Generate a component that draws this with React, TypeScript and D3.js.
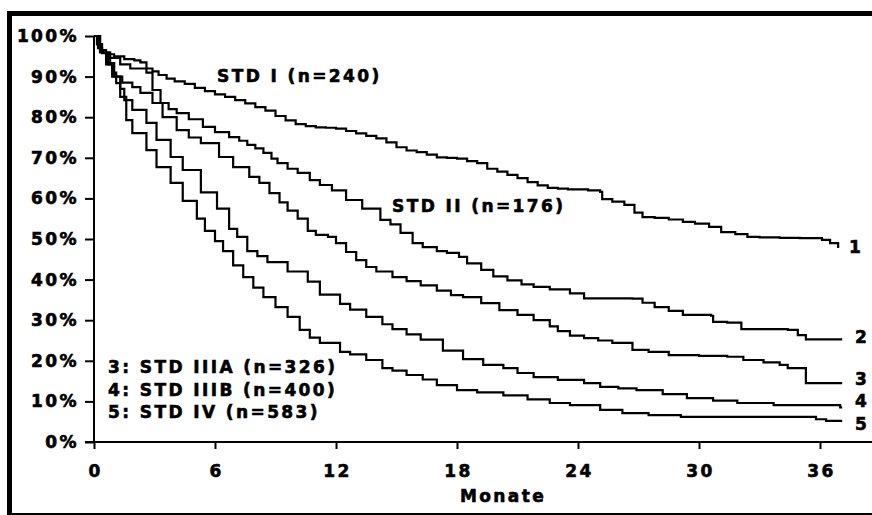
import React, { useEffect, useRef } from "react";
import * as d3 from "d3";

// Überlebenskurven nach Stadium (Kaplan-Meier)
const groupNames = ["STD I (n=240)", "STD II (n=176)", "3: STD IIIA (n=326)", "4: STD IIIB (n=400)", "5: STD IV (n=583)"];
const curveIds = ["1", "2", "3", "4", "5"];
const monthTicks = [0, 6, 12, 18, 24, 30, 36];
const pctTicks = [0, 10, 20, 30, 40, 50, 60, 70, 80, 90, 100];
const xTitle = "Monate";

const std1Months = [0, 0.15, 0.3, 0.6, 1.0, 1.5, 2.0, 2.3, 2.6, 2.9, 3.2, 3.6, 4.0, 4.5, 5.0, 5.5, 6.0, 6.5, 7.0, 7.5, 8.0, 8.5, 9.0, 9.5, 10.0, 10.5, 11.0, 11.5, 12.0, 12.5, 13.0, 13.5, 14.0, 14.5, 15.0, 15.5, 16.0, 16.5, 17.0, 17.5, 18.0, 18.5, 19.0, 19.5, 20.0, 20.5, 21.0, 21.5, 22.0, 22.5, 23.0, 23.5, 24.5, 25.1, 25.2, 25.7, 26.3, 26.8, 27.2, 27.8, 28.5, 29.2, 29.8, 30.5, 31.1, 31.8, 32.4, 33.0, 34.0, 35.0, 36.1, 36.5, 36.9];
const std1Surv = [100, 98, 96.5, 95.5, 95, 94.3, 94, 93.5, 92, 91.3, 90.4, 89.5, 88.8, 88.2, 87.2, 86.4, 85.6, 85, 84.2, 83.4, 82.5, 81.6, 80.3, 79.2, 78.3, 77.8, 77.5, 77.4, 77.2, 76.6, 76, 75.4, 74.8, 73.8, 72.6, 71.8, 71.4, 70.8, 70.1, 70, 69.8, 69.2, 68.7, 67.3, 66.6, 65.8, 65, 64, 63.2, 62.6, 62.4, 62.2, 62, 61.6, 59.8, 59.2, 58.4, 56.5, 55.4, 55.2, 54.8, 54.2, 53.8, 53, 51.7, 51.2, 50.5, 50.4, 50.3, 50.2, 49.8, 49, 47.8];

const std2Months = [0, 0.15, 0.4, 0.8, 1.3, 1.8, 2.6, 2.9, 3.3, 3.7, 4.1, 4.7, 5.4, 6.0, 6.7, 7.2, 7.6, 8.0, 8.4, 8.8, 9.1, 9.6, 10.1, 10.7, 11.2, 11.8, 12.5, 13.3, 14.2, 14.7, 15.2, 15.8, 16.3, 17.0, 17.5, 18.1, 18.5, 19.2, 19.8, 20.5, 21.2, 21.8, 22.6, 23.6, 24.3, 26.7, 27.2, 27.8, 28.5, 29.2, 30.6, 30.7, 31.4, 32.1, 34.4, 34.9, 35.3, 37.1];
const std2Surv = [100, 98, 96, 94.6, 93, 92, 91, 86.7, 83.5, 82, 81, 79.5, 77.6, 76.3, 75.1, 74.2, 73.2, 72.3, 71.2, 69.8, 68.7, 67.3, 66.3, 64.5, 63.3, 62, 59.6, 57.5, 54.7, 53.6, 51.5, 49, 48, 47, 46.6, 45.6, 44, 42.4, 40.8, 39.8, 38.8, 38.2, 37.6, 36.6, 35.4, 35.3, 34.3, 33.2, 32.3, 31.3, 31.1, 29.6, 29.4, 27.8, 27.6, 26.3, 25.3, 25.3];

const std3aMonths = [0, 0.2, 0.4, 0.7, 0.9, 1.4, 1.9, 2.3, 2.9, 3.4, 4.1, 4.7, 5.3, 6.2, 6.9, 7.7, 8.2, 8.7, 9.2, 9.6, 10.1, 10.6, 11.0, 11.6, 12.0, 12.5, 13.0, 13.5, 14.0, 14.8, 15.5, 16.2, 17.0, 17.7, 18.3, 19.2, 20.1, 21.0, 21.8, 22.6, 23.0, 23.6, 24.3, 25.0, 25.7, 26.7, 27.5, 28.5, 30.0, 31.4, 32.2, 33.2, 34.0, 34.4, 35.3, 37.1];
const std3aSurv = [100, 97, 95.8, 93, 90, 88.5, 87.4, 86, 83.5, 80, 76.8, 75, 73.6, 70.2, 67.7, 65.3, 63.8, 61.3, 59, 57, 55, 52, 51, 50.5, 49, 46.8, 44.8, 43.1, 42, 40.6, 39.6, 38.6, 37.3, 36.2, 35.7, 34.2, 32.5, 31.3, 30, 28.5, 27.3, 26.2, 25.6, 25, 24.4, 22.7, 22.2, 21.4, 21.2, 21, 20.2, 19.6, 19, 18.2, 14.5, 14.5];

const std3bMonths = [0, 0.3, 0.6, 0.8, 1.0, 1.3, 1.5, 1.9, 2.6, 3.1, 3.8, 4.4, 5.3, 6.1, 6.7, 7.1, 7.6, 8.1, 8.6, 9.6, 10.6, 11.2, 12.2, 12.7, 13.5, 14.3, 14.8, 15.5, 16.2, 17.3, 18.3, 19.3, 20.3, 21.0, 21.8, 23.0, 24.3, 25.1, 26.0, 26.9, 28.2, 29.4, 30.7, 31.9, 33.7, 37.0, 37.1];
const std3bSurv = [100, 96, 94.5, 93.3, 90, 87, 84.2, 81.8, 78.6, 74.4, 70.2, 67, 61.5, 57.5, 52.5, 50.5, 47, 45.8, 44.3, 42, 39.5, 36.3, 34, 32.6, 30.8, 29, 27.8, 26.5, 25.2, 22.5, 20.4, 19, 18.2, 17, 16, 15.3, 14.5, 13.6, 13.2, 12.8, 11.8, 10.8, 10.2, 9.6, 9.1, 8.5, 8.5];

const std4Months = [0, 0.3, 0.6, 0.9, 1.1, 1.3, 1.6, 1.9, 2.6, 3.1, 3.8, 4.4, 5.1, 5.5, 6.0, 6.4, 6.9, 7.4, 7.9, 8.4, 9.0, 9.6, 10.2, 10.7, 11.2, 12.2, 12.7, 13.5, 14.3, 14.8, 15.5, 16.3, 17.0, 18.0, 19.0, 20.3, 21.5, 22.6, 23.6, 25.1, 26.2, 27.5, 29.1, 35.2, 35.8, 36.3, 37.1];
const std4Surv = [100, 96, 93, 91, 88.4, 85, 79.3, 76.1, 71.9, 67.7, 63.8, 59.4, 55, 52, 49.5, 47, 43.5, 40.6, 38, 35.7, 33.2, 30.8, 27.6, 25.7, 24.4, 22.2, 21.6, 20.2, 18.2, 17.6, 16.5, 15.4, 14, 12.8, 12.2, 11.5, 10.5, 9.6, 9.1, 7.9, 7.1, 6.6, 6.2, 6.2, 5.6, 5.2, 5.2];

const curveMonths = [std1Months, std2Months, std3aMonths, std3bMonths, std4Months];
const curveSurv = [std1Surv, std2Surv, std3aSurv, std3bSurv, std4Surv];

const W = 872;
const H = 515;
const FONT = "'DejaVu Sans', Verdana, sans-serif";

// fette, breite Schrift wie in der Vorlage
function styleText(sel: any) {
  return sel
    .attr("font-family", FONT)
    .attr("font-weight", "bold")
    .attr("font-size", 17)
    .attr("fill", "#000")
    .attr("stroke", "#000")
    .attr("stroke-width", 0.6)
    .style("letter-spacing", "2.4px");
}

export default function App() {
  const svgRef = useRef<SVGSVGElement>(null);

  useEffect(() => {
    const svg = d3.select(svgRef.current);
    svg.selectAll("*").remove();

    const x = d3.scaleLinear().domain([0, 36]).range([94, 820]);
    const y = d3.scaleLinear().domain([0, 100]).range([442, 36]);

    // Rahmen (oben, links, unten)
    svg.append("rect").attr("x", 7).attr("y", 11).attr("width", W - 7).attr("height", 5).attr("fill", "#000");
    svg.append("rect").attr("x", 7).attr("y", 11).attr("width", 5).attr("height", H - 11).attr("fill", "#000");
    svg.append("rect").attr("x", 7).attr("y", H - 2).attr("width", W - 7).attr("height", 2).attr("fill", "#000");

    // y-Achse
    const yAxis = d3.axisLeft(y).tickValues(pctTicks).tickFormat((d) => `${d}%`).tickSize(9).tickSizeOuter(0).tickPadding(6);
    const gy = svg.append("g").attr("transform", `translate(${x(0)},0)`).call(yAxis);
    gy.select(".domain").remove();
    gy.selectAll("line").attr("stroke", "#000").attr("stroke-width", 2);
    styleText(gy.selectAll("text"));

    // x-Achse
    const xAxis = d3.axisBottom(x).tickValues(monthTicks).tickFormat((d) => `${d}`).tickSize(7).tickSizeOuter(0).tickPadding(16);
    const gx = svg.append("g").attr("transform", `translate(0,${y(0)})`).call(xAxis);
    gx.select(".domain").remove();
    gx.selectAll("line").attr("stroke", "#000").attr("stroke-width", 2);
    styleText(gx.selectAll("text")).attr("dx", "1px");

    // Achsenlinien
    svg.append("line").attr("x1", x(0)).attr("x2", x(0)).attr("y1", y(100)).attr("y2", y(0))
      .attr("stroke", "#000").attr("stroke-width", 2);
    svg.append("line").attr("x1", x(0) - 9).attr("x2", W).attr("y1", y(0)).attr("y2", y(0))
      .attr("stroke", "#000").attr("stroke-width", 2);

    styleText(svg.append("text").attr("x", 503).attr("y", 502).attr("text-anchor", "middle")).text(xTitle);

    // Kurven
    const line = d3.line<[number, number]>()
      .x((d) => x(d[0]))
      .y((d) => y(d[1]))
      .curve(d3.curveStepAfter);

    curveMonths.forEach((months, i) => {
      svg.append("path")
        .attr("d", line(d3.zip(months, curveSurv[i]) as [number, number][]))
        .attr("fill", "none")
        .attr("stroke", "#000")
        .attr("stroke-width", 2.2)
        .attr("stroke-linejoin", "miter");
    });

    const txt = (tx: number, ty: number, s: string) =>
      styleText(svg.append("text").attr("x", tx).attr("y", ty)).text(s);

    // Gruppenbeschriftungen
    txt(217, 82, groupNames[0]);
    txt(392, 212, groupNames[1]);
    txt(108, 373, groupNames[2]);
    txt(108, 396, groupNames[3]);
    txt(108, 418, groupNames[4]);

    // Kurvennummern am Ende
    const endY = [253, 343, 385, 407, 430];
    curveIds.forEach((id, i) => txt(i === 0 ? 849 : 855, endY[i], id));
  }, []);

  return (
    <svg
      ref={svgRef}
      width={W}
      height={H}
      style={{ position: "absolute", left: 0, top: 0, background: "#fff" }}
    />
  );
}
